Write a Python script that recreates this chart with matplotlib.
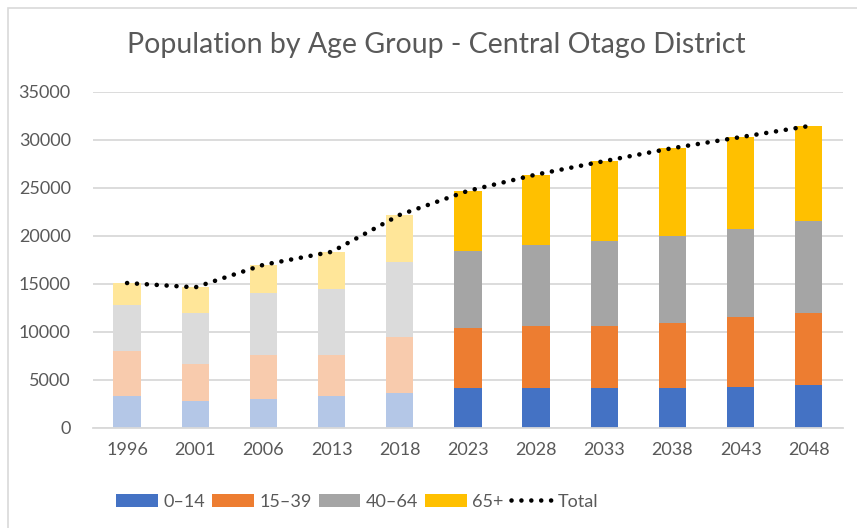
import matplotlib.pyplot as plt
from matplotlib.patches import Rectangle, Patch
import numpy as np

plt.rcParams['font.family'] = ['Lato', 'DejaVu Sans']

years = ['1996', '2001', '2006', '2013', '2018', '2023',
         '2028', '2033', '2038', '2043', '2048']
age_0_14 = [3300, 2850, 3050, 3300, 3650, 4150, 4150, 4150, 4150, 4300, 4500]
age_15_39 = [4750, 3850, 4550, 4300, 5800, 6250, 6500, 6500, 6800, 7250, 7500]
age_40_64 = [4750, 5300, 6450, 6900, 7800, 8000, 8400, 8800, 9000, 9150, 9550]
age_65_up = [2300, 2650, 2950, 3850, 4950, 6300, 7350, 8350, 9200, 9600, 9900]
groups = ['0\u201314', '15\u201339', '40\u201364', '65+']

# census years are drawn in pale tints, projections in full colour
n_past = 5
colours = ['#4472C4', '#ED7D31', '#A5A5A5', '#FFC000']
tints = ['#B4C7E7', '#F8CBAD', '#DBDBDB', '#FFE699']
text_col = '#595959'

fig = plt.figure(figsize=(8.57, 5.28), dpi=100)
ax = fig.add_axes([0.1085, 0.1894, 0.875, 0.6364])

x = np.arange(len(years))
bottom = np.zeros(len(years))
handles = []
for vals, col, tint, name in zip([age_0_14, age_15_39, age_40_64, age_65_up],
                                 colours, tints, groups):
    vals = np.array(vals)
    bar_cols = [tint] * n_past + [col] * (len(years) - n_past)
    ax.bar(x, vals, 0.4, bottom=bottom, color=bar_cols, zorder=2)
    handles.append(Patch(facecolor=col, label=name))
    bottom += vals

total = bottom
line, = ax.plot(x, total, color='black', lw=3.3, linestyle=(0, (0.01, 2.15)),
                dash_capstyle='round', zorder=3, label='Total')
handles.append(line)

ax.set_xlim(-0.5, len(years) - 0.5)
ax.set_ylim(0, 35000)
ax.set_yticks(np.arange(0, 35001, 5000))
ax.set_xticks(x)
ax.set_xticklabels(years)
ax.yaxis.grid(True, color='#D9D9D9', lw=1.3)
ax.set_axisbelow(True)
for s in ['top', 'right', 'left']:
    ax.spines[s].set_visible(False)
ax.spines['bottom'].set_color('#D9D9D9')
ax.spines['bottom'].set_linewidth(1.3)
ax.tick_params(length=0, colors=text_col, labelsize=13)
ax.tick_params(axis='x', pad=10)
ax.tick_params(axis='y', pad=16)

fig.text(0.509, 0.915, 'Population by Age Group - Central Otago District',
         ha='center', va='center', fontsize=20.5, color=text_col)

leg = fig.legend(handles=handles, loc='center', bbox_to_anchor=(0.417, 0.05),
                 ncol=5, frameon=False, fontsize=13, handlelength=2.3,
                 handleheight=0.7, handletextpad=0.3, columnspacing=0.4)
for t in leg.get_texts():
    t.set_color(text_col)

# chart frame
fig.patches.append(Rectangle((8 / 857, -0.1), 1.2, 1.1 - 8 / 528,
                             transform=fig.transFigure, fill=False,
                             edgecolor='#D9D9D9', lw=1.2))

fig.savefig('out.png', dpi=100)
